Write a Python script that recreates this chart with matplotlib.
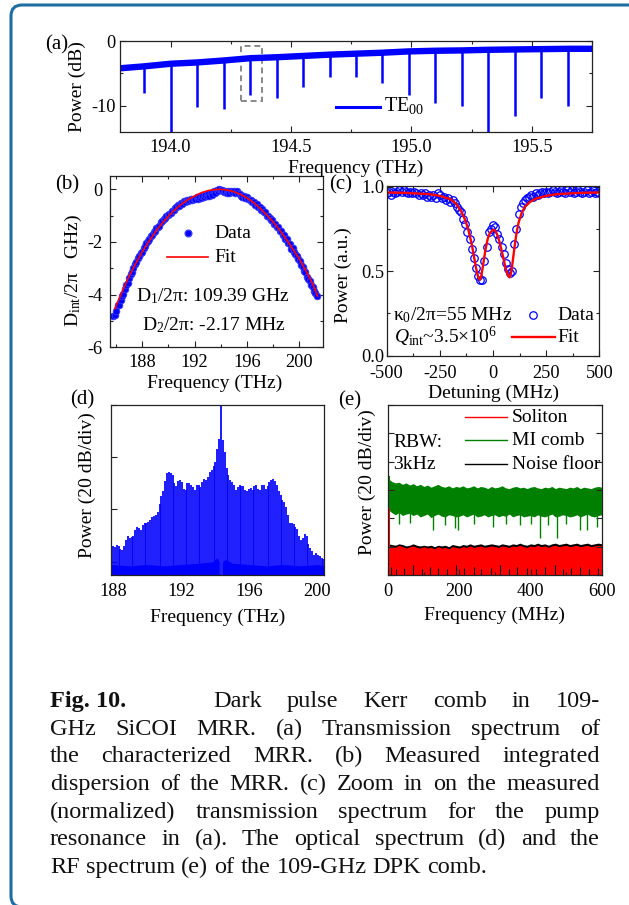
import numpy as np
import matplotlib
matplotlib.use("Agg")
import matplotlib.pyplot as plt
from matplotlib.patches import FancyBboxPatch, Rectangle
from matplotlib.lines import Line2D
from matplotlib.ticker import MultipleLocator
from matplotlib.transforms import IdentityTransform

plt.rcParams['font.family'] = ['Liberation Serif', 'DejaVu Serif']
plt.rcParams['mathtext.fontset'] = 'custom'
plt.rcParams['mathtext.rm'] = 'Liberation Serif'
plt.rcParams['mathtext.it'] = 'Liberation Serif:italic'
plt.rcParams['mathtext.bf'] = 'Liberation Serif:bold'
plt.rcParams['axes.unicode_minus'] = False

W, H = 629, 905
BLUE = '#0000ff'
RED = '#ff0000'
GREEN = '#008000'
TICK_FS = 13.2
LAB_FS = 14

# ---- (a) transmission spectrum
a_base_freq = [193.79, 193.89, 194.00, 194.11, 194.22, 194.33, 194.44, 194.55, 194.66, 194.77,
               194.88, 194.99, 195.10, 195.21, 195.32, 195.43, 195.54, 195.65, 195.75]
a_base_db = [-4.2, -3.9, -3.5, -3.3, -3.0, -2.65, -2.5, -2.3, -2.1, -1.95,
             -1.8, -1.6, -1.5, -1.45, -1.35, -1.3, -1.25, -1.2, -1.2]
a_dip_freq = a_base_freq[1:-1]
a_dip_db = [-8.05, -15, -10.1, -10.4, -8.3, -8.7, -7.1, -5.6, -5.6, -6.4,
            -8.3, -9.5, -10.0, -15, -11.5, -8.7, -9.95]

# ---- (b) integrated dispersion
b_start, b_fsr = 185.80, 0.1094
b_dint = [-4.82, -4.78, -4.62, -4.40, -4.38, -4.20, -4.05, -3.98, -3.80, -3.62,
          -3.55, -3.38, -3.22, -3.15, -3.00, -2.85, -2.78, -2.62, -2.55, -2.42,
          -2.38, -2.22, -2.15, -2.05, -1.98, -1.90, -1.78, -1.72, -1.62, -1.58,
          -1.48, -1.42, -1.38, -1.25, -1.22, -1.12, -1.10, -1.02, -0.98, -0.92,
          -0.90, -0.82, -0.80, -0.70, -0.68, -0.60, -0.62, -0.52, -0.55, -0.45,
          -0.50, -0.42, -0.46, -0.40, -0.36, -0.42, -0.35, -0.38, -0.30, -0.36,
          -0.28, -0.32, -0.24, -0.30, -0.22, -0.26, -0.18, -0.25, -0.15, -0.20,
          -0.08, -0.12, -0.02, -0.06, 0.03, -0.04, -0.02, -0.10, -0.05, -0.12,
          -0.06, -0.14, -0.08, -0.10, -0.05, -0.15, -0.08, -0.12, -0.16, -0.25,
          -0.28, -0.24, -0.33, -0.30, -0.38, -0.42, -0.40, -0.50, -0.48, -0.58,
          -0.56, -0.68, -0.66, -0.78, -0.75, -0.88, -0.86, -1.00, -1.02, -1.08,
          -1.18, -1.15, -1.30, -1.32, -1.45, -1.42, -1.58, -1.60, -1.75, -1.72,
          -1.90, -1.88, -2.05, -2.08, -2.25, -2.22, -2.40, -2.45, -2.55, -2.66,
          -2.72, -2.88, -2.95, -3.10, -3.15, -3.32, -3.40, -3.50, -3.62, -3.72,
          -3.85, -3.95, -4.06]
b_fit_freq = [185.9, 186.5, 187.0, 187.5, 188.0, 188.5, 189.0, 189.5, 190.0, 190.5,
              191.0, 191.5, 192.0, 192.5, 193.0, 193.5, 194.0, 194.5, 195.0, 195.5,
              196.0, 196.5, 197.0, 197.5, 198.0, 198.5, 199.0, 199.5, 200.0, 200.5,
              201.0, 201.38]
b_fit = [-4.54, -3.85, -3.30, -2.82, -2.38, -1.98, -1.62, -1.30, -1.02, -0.77,
         -0.56, -0.39, -0.25, -0.13, -0.05, -0.01, 0.0, -0.03, -0.09, -0.19,
         -0.33, -0.50, -0.72, -0.97, -1.24, -1.55, -1.90, -2.28, -2.65, -3.10,
         -3.58, -4.06]

# ---- (c) pump resonance
c_det = np.arange(-500, 510, 10)
c_data = [0.96, 0.97, 0.95, 0.97, 0.96, 0.97, 0.98, 0.97, 0.98, 0.97,
          0.96, 0.97, 0.96, 0.97, 0.96, 0.95, 0.96, 0.95, 0.96, 0.94,
          0.95, 0.94, 0.95, 0.93, 0.96, 0.95, 0.93, 0.94, 0.92, 0.93,
          0.91, 0.92, 0.90, 0.88, 0.86, 0.85, 0.81, 0.78, 0.73, 0.69,
          0.63, 0.58, 0.52, 0.47, 0.45, 0.45, 0.56, 0.64, 0.73, 0.75,
          0.77, 0.76, 0.72, 0.69, 0.64, 0.60, 0.55, 0.51, 0.49, 0.50,
          0.66, 0.75, 0.84, 0.88, 0.90, 0.92, 0.93, 0.94, 0.95, 0.94,
          0.96, 0.95, 0.96, 0.97, 0.96, 0.97, 0.96, 0.97, 0.98, 0.97,
          0.96, 0.97, 0.98, 0.97, 0.96, 0.98, 0.97, 0.98, 0.96, 0.97,
          0.98, 0.97, 0.96, 0.97, 0.98, 0.96, 0.97, 0.98, 0.96, 0.97,
          0.96]
c_fit_det = [-500, -400, -300, -250, -200, -175, -150, -130, -115, -100, -90, -80, -70, -62,
             -55, -45, -35, -25, -15, 0, 10, 20, 30, 40, 50, 60, 70, 78, 85, 92, 100,
             110, 120, 135, 150, 175, 200, 250, 300, 400, 500]
c_fit = [0.965, 0.962, 0.955, 0.945, 0.925, 0.90, 0.855, 0.80, 0.74, 0.66, 0.59, 0.52,
         0.465, 0.448, 0.47, 0.55, 0.63, 0.69, 0.725, 0.745, 0.74, 0.715, 0.675, 0.625,
         0.57, 0.515, 0.475, 0.463, 0.49, 0.55, 0.63, 0.72, 0.785, 0.845, 0.88, 0.91,
         0.928, 0.945, 0.955, 0.962, 0.965]

# ---- (d) optical spectrum of the comb (one value per comb line, pump = index 58)
d_pump, d_fsr, d_pump_idx = 194.33, 0.1094, 58
d_comb_db = [-54, -54.5, -53.5, -53.8, -55, -55.5, -54, -51.5, -50, -51,
             -50.5, -50, -48, -46.5, -47, -48, -46, -45, -45, -44.6,
             -44, -43, -42.5, -42, -41, -38, -35, -33, -29, -26,
             -25.5, -26, -27, -30, -31, -29, -28.7, -29.5, -32, -32.5,
             -30, -30, -30.6, -31.5, -32.5, -30.6, -30.6, -31.5, -29.5, -28.5,
             -28.8, -27.5, -25.5, -24.9, -23.5, -21.7, -17, -13.2, 0, -13.5,
             -18, -24, -26.8, -28.7, -29.5, -30.5, -32.5, -31.5, -30.6, -31.2,
             -31, -32.5, -33.1, -32, -31.9, -32.5, -31, -30.6, -32, -32.5,
             -30.6, -30.6, -32, -31, -29.5, -28.8, -28.4, -29.3, -30.6, -33,
             -34.4, -36.5, -37, -39, -42, -45.2, -45, -45.5, -46.5, -47.5,
             -50, -51.5, -51, -49.5, -50.3, -53, -54.7, -56, -57.3, -56.6,
             -57.5, -57.9, -58.5, -59]
d_floor_l_f = [187.87, 189.0, 190.0, 191.0, 192.0, 193.0, 193.8, 194.1, 194.22]
d_floor_l_db = [-61, -61.5, -61, -61.5, -61, -60.5, -60, -58.5, -60]
d_floor_r_f = [194.42, 194.6, 195.0, 196.0, 197.0, 198.0, 199.0, 200.0, 200.4]
d_floor_r_db = [-60, -59, -60.5, -61, -61.5, -61, -61.5, -61, -61.5]

# ---- (e) RF spectrum, sampled every 10 MHz
e_f = np.arange(0, 610, 10)
e_green_top = [-52, -54, -55, -54.5, -56, -55, -56.5, -55.5, -57, -56,
               -57.5, -56.5, -58, -57, -56, -57.5, -58, -57, -58.5, -57.5,
               -58, -57, -58.5, -58, -57, -58.5, -57.5, -58, -59, -57.5,
               -58.5, -58, -57, -58.5, -59, -58, -57.5, -58.5, -58, -59,
               -58, -57.5, -58.5, -59, -58, -58.5, -57.5, -59, -58, -58.5,
               -59, -58, -58.5, -57.5, -59, -58, -58.5, -59, -58, -57.5,
               -58]
e_green_bot = [-74, -76, -77.5, -76, -78, -77, -76.5, -78, -77, -79,
               -78, -77, -79.5, -78, -77, -78.5, -79, -77.5, -78, -79,
               -78.5, -77.5, -79, -78, -77, -79, -78.5, -77.5, -79, -78,
               -77.5, -79, -78, -78.5, -77, -79, -78, -77.5, -79, -78.5,
               -78, -79, -77.5, -78.5, -79, -78, -77, -79, -78.5, -77.5,
               -78, -79, -78.5, -77.5, -79, -78, -77, -78.5, -79, -78,
               -77.5]
e_red_top = [-100, -99.5, -100.5, -99, -100, -101, -100, -99.5, -100.5, -101,
             -100, -101, -100.5, -101.5, -100, -101, -100.5, -101.5, -100, -100.5,
             -101, -100, -100.5, -99.5, -100.5, -100, -99.5, -100.5, -100, -99.5,
             -100, -100.5, -99.5, -100, -100.5, -99.5, -100, -99, -100, -100.5,
             -99.5, -100, -99, -100, -99.5, -100.5, -99.5, -99, -100, -99.5,
             -99, -100, -99.5, -99, -100, -99.5, -99, -100, -99.5, -99,
             -99.5]
e_black_top = [-98, -98.5, -99, -98, -98.5, -99.5, -99, -98, -99, -99.5,
               -99, -99.5, -99, -100, -99, -99.5, -99, -100, -98.5, -99,
               -99.5, -98.5, -99, -98, -99, -98.5, -98, -99, -98.5, -98,
               -98.5, -99, -98, -98.5, -99, -98, -98.5, -97.5, -98.5, -99,
               -98, -98.5, -97.5, -98.5, -98, -99, -98, -97.5, -98.5, -98,
               -97.5, -98.5, -98, -97.5, -98.5, -98, -97.5, -98.5, -98, -97.5,
               -98]
e_gspike_f = [30, 60, 127, 160, 187, 197, 240, 295, 330, 370, 400, 427, 450, 473, 500, 539, 558, 586]
e_gspike_db = [-84, -83, -88, -85, -87, -88, -84, -86, -84, -85, -84, -94, -85, -94, -84, -88, -88, -86]
e_bspike_f = [8, 22, 45, 70, 95, 118, 140, 165, 190, 212, 240, 262, 290, 315, 340, 362,
              390, 415, 440, 468, 490, 515, 540, 565, 590]
e_bspike_db = [-114, -116, -115, -113, -116, -114, -115, -116, -113, -115, -114, -116, -115,
               -113, -116, -114, -115, -116, -114, -113, -116, -115, -114, -116, -115]
e_green_peak, e_red_peak = -50, -73

fig = plt.figure(figsize=(W / 100, H / 100), dpi=100)


def px_axes(l, t, r, b):
    return fig.add_axes([l / W, 1 - b / H, (r - l) / W, (b - t) / H])


def style(ax, pad=6, top=True, right=True):
    for s in ax.spines.values():
        s.set_linewidth(0.9)
        s.set_color('#222222')
    ax.tick_params(which='both', direction='in', top=top, right=right,
                   labelsize=TICK_FS, pad=pad, width=0.8, color='#222222')
    ax.tick_params(which='major', length=4)
    ax.tick_params(which='minor', length=2.5)


def ftext(x, y, s, **kw):
    kw.setdefault('fontsize', LAB_FS)
    return fig.text(x / W, 1 - y / H, s, **kw)


def fline(x0, x1, y, color, lw):
    fig.add_artist(Line2D([x0 / W, x1 / W], [1 - y / H, 1 - y / H], color=color, lw=lw))


# outer rounded frame
frame = FancyBboxPatch((11, -2), 640, 902, boxstyle='round,pad=0,rounding_size=11',
                       transform=IdentityTransform(), fill=False, ec='#1f6ea3', lw=2.2)
fig.add_artist(frame)

# ---------------- (a)
ax = px_axes(120, 41, 592, 132)
ax.vlines(a_dip_freq, a_dip_db, a_base_db[1:-1], color=BLUE, lw=1.8)
ax.plot(a_base_freq, a_base_db, color=BLUE, lw=4.6, solid_capstyle='butt')
ax.add_patch(Rectangle((194.294, -9.2), 0.084, 8.48, fill=False, ec='#888888',
                       ls=(0, (3, 2)), lw=1.4))
ax.set_xlim(193.79, 195.75)
ax.set_ylim(-14, 0)
ax.xaxis.set_major_locator(MultipleLocator(0.5))
ax.xaxis.set_minor_locator(MultipleLocator(0.25))
ax.set_yticks([0, -10])
ax.yaxis.set_minor_locator(MultipleLocator(5))
ax.xaxis.set_major_formatter(matplotlib.ticker.FormatStrFormatter('%.1f'))
style(ax, pad=5)
ax.tick_params(axis='y', pad=3)
ftext(57, 45, '(a)', fontsize=15, ha='center', va='center')
ftext(77, 87, 'Power (dB)', rotation=90, ha='center', va='center')
ftext(356, 168, 'Frequency (THz)', ha='center', va='center')
fline(336, 380, 107, BLUE, 2.2)
ftext(384, 105, 'TE$_{00}$', ha='left', va='center', fontsize=14.5)

# ---------------- (b)
ax = px_axes(109.5, 176.2, 323, 347.1)
b_freq = b_start + b_fsr * np.arange(len(b_dint))
ax.plot(b_freq, b_dint, 'o', ms=4.8, mfc=BLUE, mec='#3a3aff', mew=0.6, ls='none')
ax.plot(b_fit_freq, b_fit, color=RED, lw=1.2)
ax.set_xlim(185.5, 201.8)
ax.set_ylim(-6, 0.5)
ax.set_xticks([188, 192, 196, 200])
ax.xaxis.set_minor_locator(MultipleLocator(2))
ax.set_yticks([0, -2, -4, -6])
ax.yaxis.set_minor_locator(MultipleLocator(1))
style(ax, pad=5)
ftext(67, 185, '(b)', fontsize=15, ha='center', va='center')
ftext(73, 270, 'D$_{\\mathrm{int}}$/2\u03c0   GHz)', rotation=90, ha='center', va='center')
ftext(215, 383, 'Frequency (THz)', ha='center', va='center')
fig.add_artist(Line2D([188 / W], [1 - 233 / H], marker='o', ms=4.8, mfc=BLUE,
                      mec='#3a3aff', ls='none'))
ftext(214, 233, 'Data', ha='left', va='center')
fline(167, 208, 257, RED, 1.2)
ftext(214, 257, 'Fit', ha='left', va='center')
ftext(213, 296, 'D$_1$/2\u03c0: 109.39 GHz', ha='center', va='center')
ftext(214, 325, 'D$_2$/2\u03c0: -2.17 MHz', ha='center', va='center')

# ---------------- (c)
ax = px_axes(386.7, 185.7, 599.3, 355.7)
ax.plot(c_det, c_data, 'o', ms=5.4, mfc='none', mec=BLUE, mew=0.9, ls='none')
ax.plot(c_fit_det, c_fit, color=RED, lw=1.7)
ax.set_xlim(-500, 500)
ax.set_ylim(0, 1.005)
ax.set_xticks([-500, -250, 0, 250, 500])
ax.xaxis.set_minor_locator(MultipleLocator(125))
ax.set_yticks([0, 0.5, 1.0])
ax.yaxis.set_minor_locator(MultipleLocator(0.25))
ax.yaxis.set_major_formatter(matplotlib.ticker.FormatStrFormatter('%.1f'))
style(ax, pad=6.5)
ax.tick_params(axis='y', pad=1.5)
ftext(341, 185, '(c)', fontsize=15, ha='center', va='center')
ftext(343, 275, 'Power (a.u.)', rotation=90, ha='center', va='center')
ftext(493, 393, 'Detuning (MHz)', ha='center', va='center')
ftext(393, 315, '\u03ba$_0$/2\u03c0=55 MHz', ha='left', va='center')
ftext(394, 337, '$Q_{\\mathrm{int}}$~3.5\u00d710$^6$', ha='left', va='center')
fig.add_artist(Line2D([533 / W], [1 - 315 / H], marker='o', ms=5.4, mfc='none',
                      mec=BLUE, mew=0.9, ls='none'))
ftext(557, 315, 'Data', ha='left', va='center')
fline(512, 555, 337, RED, 1.7)
ftext(557, 337, 'Fit', ha='left', va='center')

# ---------------- (d)
ax = px_axes(111, 404.7, 324.3, 575)
d_freq = d_pump + d_fsr * (np.arange(len(d_comb_db)) - d_pump_idx)
ax.fill_between(d_floor_l_f, -66, d_floor_l_db, color=BLUE, lw=0)
ax.fill_between(d_floor_r_f, -66, d_floor_r_db, color=BLUE, lw=0)
ax.vlines(d_freq, -66, d_comb_db, color=BLUE, lw=1.25)
ax.set_xlim(187.87, 200.4)
ax.set_ylim(-65, 0)
ax.set_xticks([188, 192, 196, 200])
ax.set_yticks([-60, -40, -20, 0])
ax.set_yticklabels([])
style(ax, pad=6, top=False, right=False)
ftext(82, 400, '(d)', fontsize=15, ha='center', va='center')
ftext(87, 485, 'Power (20 dB/div)', rotation=90, ha='center', va='center')
ftext(218, 617, 'Frequency (THz)', ha='center', va='center')

# ---------------- (e)
ax = px_axes(388.3, 405, 601.7, 575)
ax.fill_between(e_f, -121, e_black_top, color='black', lw=0)
ax.fill_between(e_f, -121, e_red_top, color=RED, lw=0)
ax.fill_between(e_f, e_green_bot, e_green_top, color=GREEN, lw=0)
ax.vlines(e_gspike_f, e_gspike_db, -75, color=GREEN, lw=1.0)
ax.vlines([1.5], -60, e_green_peak, color=GREEN, lw=1.5)
ax.vlines([1.5], -100, e_red_peak, color=RED, lw=1.5)
ax.vlines(e_bspike_f, -121, e_bspike_db, color='black', lw=0.8)
ax.set_xlim(0, 600)
ax.set_ylim(-120, 0)
ax.set_xticks([0, 200, 400, 600])
ax.xaxis.set_minor_locator(MultipleLocator(100))
ax.set_yticks(np.arange(-120, 1, 20))
ax.set_yticklabels([])
style(ax, pad=6, top=False, right=True)
ftext(350, 401, '(e)', fontsize=15, ha='center', va='center')
ftext(367, 482, 'Power (20 dB/div)', rotation=90, ha='center', va='center')
ftext(494, 615, 'Frequency (MHz)', ha='center', va='center')
ftext(393, 442, 'RBW:', ha='left', va='center')
ftext(393, 464, '3kHz', ha='left', va='center')
fline(465, 507, 417, RED, 1.0)
fline(465, 507, 440, GREEN, 1.0)
fline(465, 507, 464, 'black', 1.0)
ftext(512, 417, 'Soliton', ha='left', va='center')
ftext(512, 440, 'MI comb', ha='left', va='center')
ftext(512, 464, 'Noise floor', ha='left', va='center')

# ---------------- caption (justified by hand)
CAP_FS = 17.5
renderer = fig.canvas.get_renderer()
cap_x0, cap_x1 = 50, 600
cap_lines = [
    'Dark pulse Kerr comb in 109-',
    'GHz SiCOI MRR. (a) Transmission spectrum of',
    'the characterized MRR. (b) Measured integrated',
    'dispersion of the MRR. (c) Zoom in on the measured',
    '(normalized) transmission spectrum for the pump',
    'resonance in (a).  The optical spectrum (d) and the',
    'RF spectrum (e) of the 109-GHz DPK comb.',
]


def put_words(words, x0, x1, yb, justify=True):
    ts = [ftext(0, yb, w, fontsize=CAP_FS, ha='left', va='baseline', color='#111111')
          for w in words]
    ws = [t.get_window_extent(renderer).width for t in ts]
    if justify and len(ts) > 1:
        gap = (x1 - x0 - sum(ws)) / (len(ts) - 1)
    else:
        gap = CAP_FS * 0.25 * 100 / 72
    x = x0
    for t, w in zip(ts, ws):
        t.set_x(x / W)
        x += w + gap


base0, lead = 707, 27.67
ftext(cap_x0, base0, 'Fig. 10.', fontsize=CAP_FS, weight='bold', ha='left', va='baseline',
      color='#111111')
for i, line in enumerate(cap_lines):
    yb = base0 + i * lead
    x0 = 213 if i == 0 else cap_x0
    put_words(line.split(), x0, cap_x1, yb, justify=(i < len(cap_lines) - 1))

fig.savefig('out.png', dpi=100)
